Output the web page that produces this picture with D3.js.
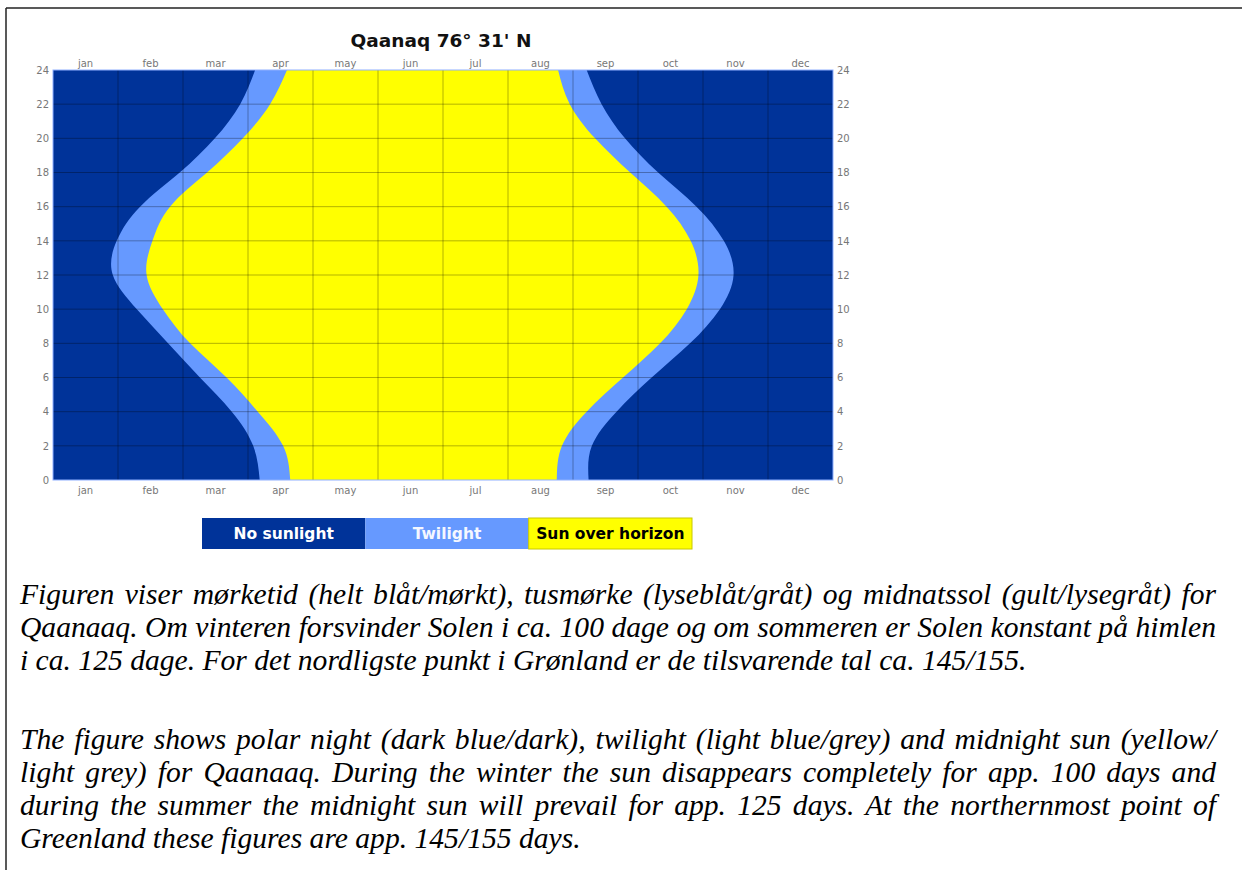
<!DOCTYPE html>
<html>
<head>
<meta charset="utf-8">
<script src="https://cdn.jsdelivr.net/npm/d3@7"></script>
<style>
body { margin:0; background:#fff; }
#page { position:relative; width:1242px; height:870px; overflow:hidden; }
#page svg { position:absolute; left:0; top:0; }
.txt { position:absolute; left:20px; font-family:"Liberation Serif","Times New Roman",serif;
  font-style:italic; font-size:29.6px; line-height:33px; color:#000; white-space:nowrap; }
</style>
</head>
<body>
<div id="page"></div>
<script>
var width  = 1242;
var height = 870;

// month labels
var months = ["jan","feb","mar","apr","may","jun","jul","aug","sep","oct","nov","dec"];
var hourTicks = [0,2,4,6,8,10,12,14,16,18,20,22,24];

// boundaries, in months from 1 jan, every two hours of the day
var hours      = [0, 2, 4, 6, 8, 10, 12, 14, 16, 18, 20, 22, 24];
var nightEnd   = [3.18, 3.08, 2.75, 2.26, 1.77, 1.29, 0.92, 0.98, 1.34, 1.95, 2.49, 2.88, 3.11];
var sunStart   = [3.65, 3.54, 3.15, 2.67, 2.11, 1.69, 1.44, 1.53, 1.80, 2.37, 2.92, 3.34, 3.60];
var sunEnd     = [7.75, 7.83, 8.21, 8.77, 9.34, 9.75, 9.93, 9.81, 9.44, 8.88, 8.34, 7.95, 7.77];
var nightStart = [8.24, 8.29, 8.67, 9.21, 9.80, 10.26, 10.47, 10.32, 9.90, 9.31, 8.80, 8.44, 8.21];

var legendLabels = ["No sunlight", "Twilight", "Sun over horizon"];
var legendColors = ["#003399", "#6699ff", "#ffff00"];
var legendText   = ["#ffffff", "#f4f7ff", "#000000"];

var textDa = [
  "Figuren viser mørketid (helt blåt/mørkt), tusmørke (lyseblåt/gråt) og midnatssol (gult/lysegråt) for",
  "Qaanaaq. Om vinteren forsvinder Solen i ca. 100 dage og om sommeren er Solen konstant på himlen",
  "i ca. 125 dage. For det nordligste punkt i Grønland er de tilsvarende tal ca. 145/155."
];
var textEn = [
  "The figure shows polar night (dark blue/dark), twilight (light blue/grey) and midnight sun (yellow/",
  "light grey) for Qaanaaq. During the winter the sun disappears completely for app. 100 days and",
  "during the summer the midnight sun will prevail for app. 125 days. At the northernmost point of",
  "Greenland these figures are app. 145/155 days."
];

var rows = hours.map(function(h, i) {
  return {h: h, d1: nightEnd[i], y1: sunStart[i], y2: sunEnd[i], d2: nightStart[i]};
});

var svg = d3.select("#page").append("svg")
  .attr("width", width)
  .attr("height", height);

// page frame lines
svg.append("line").attr("x1", 6).attr("x2", width).attr("y1", 8).attr("y2", 8)
  .attr("stroke", "#222").attr("stroke-width", 1.5);
svg.append("line").attr("x1", 6).attr("x2", 6).attr("y1", 8).attr("y2", height)
  .attr("stroke", "#222").attr("stroke-width", 1.5);

var pLeft = 53, pRight = 833, pTop = 70, pBottom = 480;

var x = d3.scaleLinear().domain([0, 12]).range([pLeft, pRight]);
var xb = d3.scaleBand().domain(months).range([pLeft, pRight]);
var y = d3.scaleLinear().domain([0, 24]).range([pBottom, pTop]);

svg.append("clipPath").attr("id", "plotclip")
  .append("rect").attr("x", pLeft).attr("y", pTop)
  .attr("width", pRight - pLeft).attr("height", pBottom - pTop);

var plot = svg.append("g").attr("clip-path", "url(#plotclip)");

plot.append("rect")
  .attr("x", pLeft).attr("y", pTop)
  .attr("width", pRight - pLeft).attr("height", pBottom - pTop)
  .style("fill", legendColors[0]);

var twilight = d3.area()
  .curve(d3.curveNatural)
  .y(function(d) { return y(d.h); })
  .x0(function(d) { return x(d.d1); })
  .x1(function(d) { return x(d.d2); });

var sun = d3.area()
  .curve(d3.curveNatural)
  .y(function(d) { return y(d.h); })
  .x0(function(d) { return x(d.y1); })
  .x1(function(d) { return x(d.y2); });

plot.append("path").datum(rows).attr("d", twilight).style("fill", legendColors[1]);
plot.append("path").datum(rows).attr("d", sun).style("fill", legendColors[2]);

// grid
plot.selectAll(".vgrid")
  .data(d3.range(1, 12))
  .enter().append("line")
  .attr("class", "vgrid")
  .attr("x1", function(d) { return x(d); }).attr("x2", function(d) { return x(d); })
  .attr("y1", pTop).attr("y2", pBottom)
  .attr("stroke", "#000").attr("stroke-opacity", 0.3).attr("stroke-width", 1);

plot.selectAll(".hgrid")
  .data(hourTicks.slice(1, -1))
  .enter().append("line")
  .attr("class", "hgrid")
  .attr("y1", function(d) { return y(d); }).attr("y2", function(d) { return y(d); })
  .attr("x1", pLeft).attr("x2", pRight)
  .attr("stroke", "#000").attr("stroke-opacity", 0.3).attr("stroke-width", 1);

svg.append("rect")
  .attr("x", pLeft).attr("y", pTop)
  .attr("width", pRight - pLeft).attr("height", pBottom - pTop)
  .attr("fill", "none").attr("stroke", "#8fb0ff").attr("stroke-width", 1);

// axes
function styleAxis(g) {
  g.select(".domain").remove();
  g.selectAll("text")
    .attr("fill", "#777")
    .style("font-family", "DejaVu Sans, sans-serif")
    .style("font-size", "10px");
}

svg.append("g")
  .attr("transform", "translate(0," + (pTop - 3) + ")")
  .call(d3.axisTop(xb).tickSize(0).tickPadding(0))
  .call(styleAxis);

svg.append("g")
  .attr("transform", "translate(0," + (pBottom + 4) + ")")
  .call(d3.axisBottom(xb).tickSize(0).tickPadding(3))
  .call(styleAxis);

svg.append("g")
  .attr("transform", "translate(" + (pLeft - 4) + ",0)")
  .call(d3.axisLeft(y).tickValues(hourTicks).tickSize(0).tickPadding(0))
  .call(styleAxis);

svg.append("g")
  .attr("transform", "translate(" + (pRight + 4) + ",0)")
  .call(d3.axisRight(y).tickValues(hourTicks).tickSize(0).tickPadding(0))
  .call(styleAxis);

// title
svg.append("text")
  .attr("x", 441).attr("y", 47)
  .attr("text-anchor", "middle")
  .style("font-family", "DejaVu Sans, sans-serif")
  .style("font-weight", "bold")
  .style("font-size", "18.5px")
  .attr("fill", "#111")
  .text("Qaanaq 76° 31' N");

// legend
var lx = d3.scaleBand().domain(legendLabels).range([202, 692]);
var legend = svg.selectAll(".legend")
  .data(legendLabels)
  .enter().append("g")
  .attr("class", "legend");

legend.append("rect")
  .attr("x", function(d) { return lx(d); })
  .attr("y", 518)
  .attr("width", lx.bandwidth())
  .attr("height", 31)
  .style("fill", function(d, i) { return legendColors[i]; })
  .style("stroke", function(d, i) { return i == 2 ? "#c8c800" : "none"; });

legend.append("text")
  .attr("x", function(d) { return lx(d) + lx.bandwidth() / 2; })
  .attr("y", 534)
  .attr("dy", "0.35em")
  .attr("text-anchor", "middle")
  .style("font-family", "DejaVu Sans, sans-serif")
  .style("font-weight", "bold")
  .style("font-size", "15.5px")
  .attr("fill", function(d, i) { return legendText[i]; })
  .text(function(d) { return d; });

// caption, full lines stretched to the text width by word spacing
var textWidth = 1196;
function addPara(lines, firstBase) {
  lines.forEach(function(t, i) {
    var div = d3.select("#page").append("div")
      .attr("class", "txt")
      .style("top", (firstBase + i * 33 - 26) + "px")
      .text(t);
    if (i < lines.length - 1) {
      var w = div.node().getBoundingClientRect().width;
      var gaps = t.split(" ").length - 1;
      div.style("word-spacing", ((textWidth - w) / gaps) + "px");
    }
  });
}
addPara(textDa, 604);
addPara(textEn, 749);
</script>
</body>
</html>
